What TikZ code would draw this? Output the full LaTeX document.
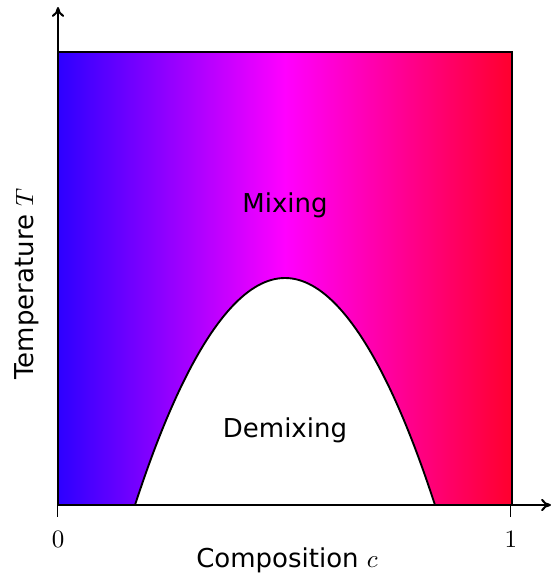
\documentclass[tikz,border=0pt]{standalone}
\usepackage{fontspec}
\setmainfont{DejaVu Sans}
\usetikzlibrary{arrows.meta}
\definecolor{leftc}{RGB}{45,0,255}
\definecolor{rightc}{RGB}{255,0,45}
\begin{document}
\begin{tikzpicture}[x=0.4pt,y=-0.4pt,
  lbl/.style={font=\fontsize{10.4}{12}\selectfont, inner sep=0pt},
  axisline/.style={line width=0.8pt, -{To[length=4pt,width=5pt]}},
  frame/.style={line width=0.75pt},
  tick/.style={line width=0.4pt}]
\useasboundingbox (0,0) rectangle (552,576);
% gradient region
\shade[left color=leftc, right color=rightc, middle color=magenta] (58,52) rectangle (512,505);
% demixing region
\fill[white] (135,505) parabola bend (285,278) (435,505) -- cycle;
\draw[frame] (135,505) parabola bend (285,278) (435,505);
% frame
\draw[frame] (58,505) -- (58,52) -- (512,52) -- (512,505) -- cycle;
% axes
\coordinate (O) at (58,505);
\coordinate (xend) at (551,505);
\coordinate (yend) at (58,7);
\draw[axisline] (O) -- (xend);
\draw[axisline] (O) -- (yend);
% ticks
\coordinate (t0) at (58,517);
\coordinate (t1a) at (511,505);
\coordinate (t1) at (511,517);
\draw[tick] (O) -- (t0);
\draw[tick] (t1a) -- (t1);
% labels
\node[lbl, anchor=base] (zero) at (58,547) {$0$};
\node[lbl, anchor=base] (one) at (511,547) {$1$};
\node[lbl, anchor=base] (xlab) at (287,567) {Composition $c$};
\node[lbl, anchor=base, rotate=90] (ylab) at (33,284) {Temperature $T$};
\node[lbl, anchor=base] (mix) at (285,212) {Mixing};
\node[lbl, anchor=base] (demix) at (285,437) {Demixing};
\end{tikzpicture}
\end{document}
